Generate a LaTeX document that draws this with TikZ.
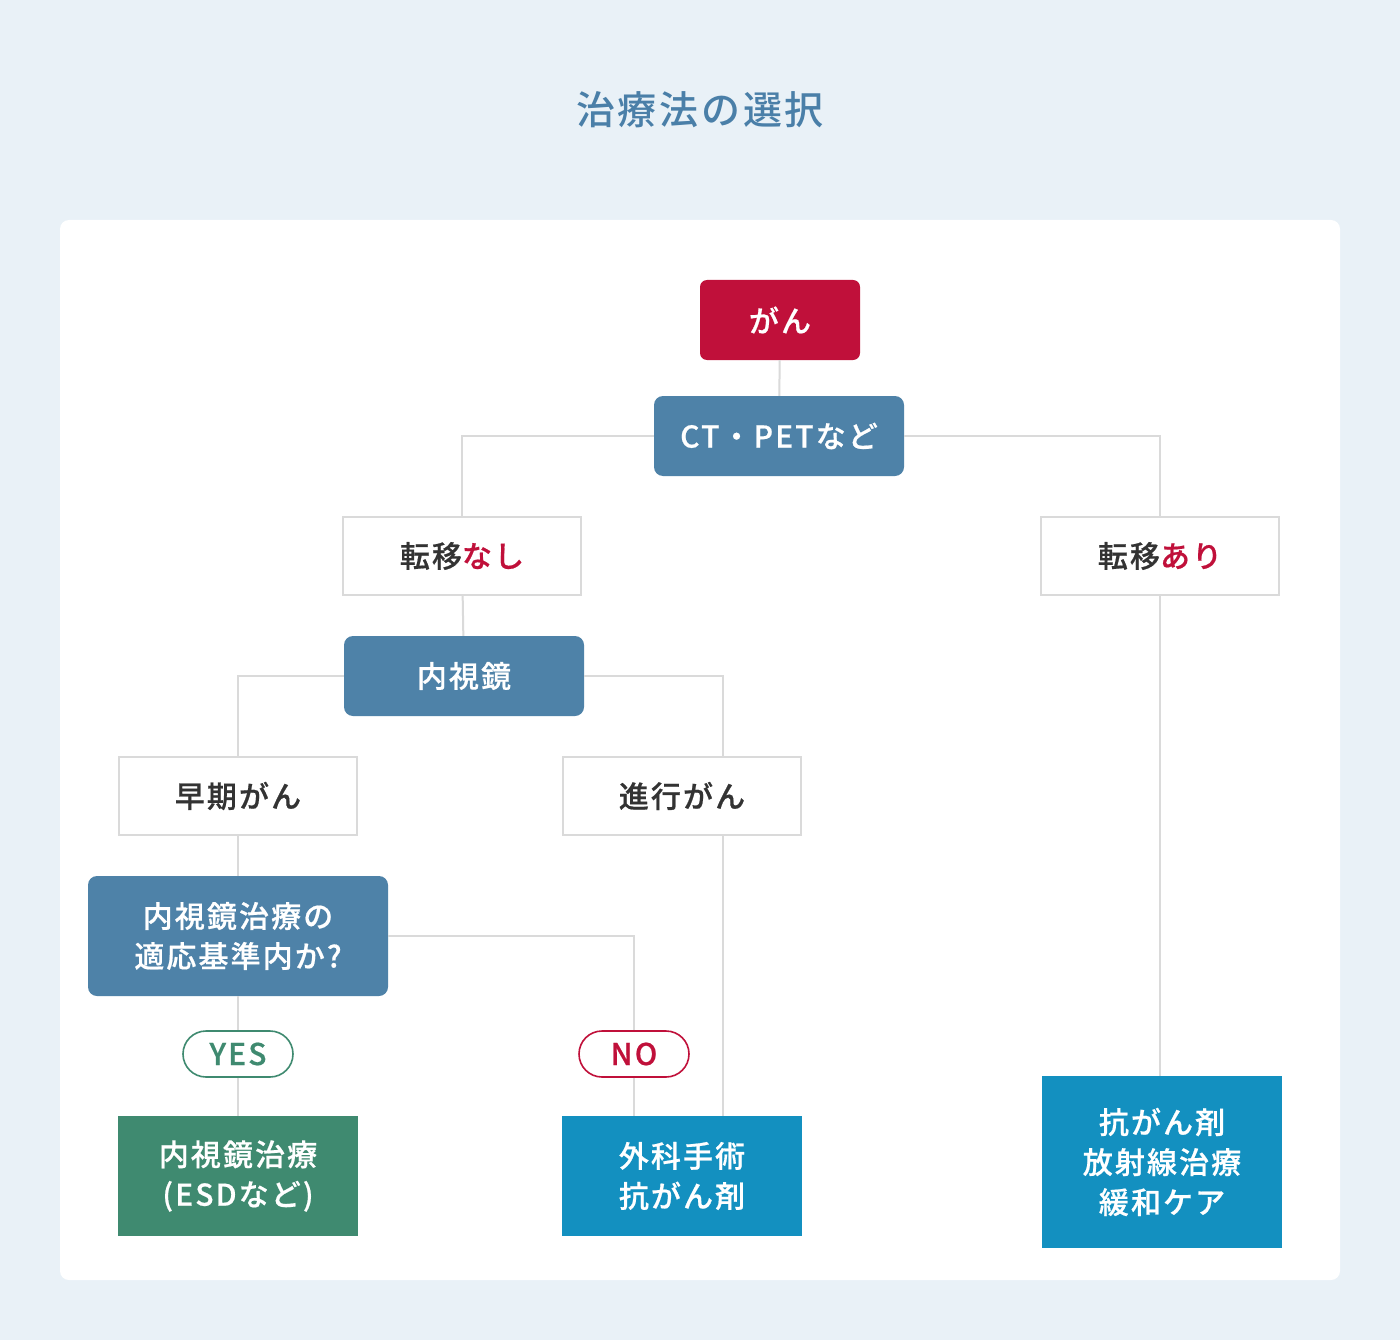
\documentclass[tikz,border=0pt]{standalone}
\usepackage{fontspec}
\setmainfont{Noto Sans CJK JP}[LetterSpace=7, BoldFont={Noto Sans CJK JP Medium}]
\newfontfamily\boxfont{Noto Sans CJK JP Medium}[LetterSpace=7, FakeBold=0.6]
\usepackage{xcolor}
\definecolor{gcbg}{HTML}{E9F1F7}
\definecolor{gctitle}{HTML}{4A7FA8}
\definecolor{gcred}{HTML}{C0103A}
\definecolor{gcblue}{HTML}{4E82A8}
\definecolor{gccyan}{HTML}{1390C0}
\definecolor{gcgreen}{HTML}{3F8A70}
\definecolor{gcline}{HTML}{DADADA}
\definecolor{gcdark}{HTML}{333333}
\usetikzlibrary{positioning}

\begin{document}
\begin{tikzpicture}[x=1pt, y=-1pt,
  flow/.style={rectangle, inner sep=0pt, align=center, text=white,
    font=\boxfont\fontsize{30}{40}\selectfont},
  redbox/.style={flow, fill=gcred, rounded corners=7pt},
  bluebox/.style={flow, fill=gcblue, rounded corners=9pt},
  outbox/.style={flow, fill=white, draw=gcline, line width=2pt, text=gcdark,
    minimum width=238pt, minimum height=78pt},
  endbox/.style={flow, minimum width=240pt},
  pill/.style={flow, fill=white, line width=1.6pt, rounded corners=23pt,
    minimum width=110pt, minimum height=46pt},
  link/.style={draw=gcline, line width=2pt}]
% background and panel
\fill[gcbg] (0,0) rectangle (1400,1340);
\fill[white, rounded corners=9pt] (60,220) rectangle (1340,1280);
\node (title) at (700,110) [text=gctitle, font=\bfseries\fontsize{39}{48}\selectfont] {治療法の選択};
% top of the tree
\node[redbox, minimum width=160pt, minimum height=80pt] (gan) at (780,320) {がん};
\node[bluebox, minimum width=250pt, minimum height=80pt] (ctpet) at (779,436) {CT・PETなど};
\node[outbox] (nashi) at (462,556) {転移\textcolor{gcred}{なし}};
\node[outbox] (ari) at (1160,556) {転移\textcolor{gcred}{あり}};
% no metastasis branch
\node[bluebox, minimum width=240pt, minimum height=80pt] (naishi) at (464,676) {内視鏡};
\node[outbox] (soki) at (238,796) {早期がん};
\node[outbox] (shinko) at (682,796) {進行がん};
\coordinate (shinkoline) at (723,796);
\node[bluebox, minimum width=300pt, minimum height=120pt] (tekio) at (238,936)
  {内視鏡治療の\\適応基準内か?};
\node[pill, draw=gcgreen, text=gcgreen] (yes) at (238,1054) {YES};
\node[pill, draw=gcred, text=gcred] (no) at (634,1054) {NO};
% treatments
\node[endbox, fill=gcgreen, minimum height=120pt] (esd) at (238,1176) {内視鏡治療\\(ESDなど)};
\node[endbox, fill=gccyan, minimum height=120pt] (geka) at (682,1176) {外科手術\\抗がん剤};
\node[endbox, fill=gccyan, minimum height=172pt] (kagaku) at (1162,1162)
  {抗がん剤\\放射線治療\\緩和ケア};
% connectors
\draw[link] (gan) -- (ctpet);
\draw[link] (ctpet.west) -| (nashi.north);
\draw[link] (ctpet.east) -| (ari.north);
\draw[link] (nashi) -- (naishi);
\draw[link] (naishi.west) -| (soki.north);
\draw[link] (naishi.east) -| (shinkoline |- shinko.north);
\draw[link] (soki) -- (tekio);
\draw[link] (tekio) -- (yes);
\draw[link] (yes) -- (esd);
\draw[link] (tekio.east) -| (no.north);
\draw[link] (no.south) -- (no.south |- geka.north);
\draw[link] (shinkoline |- shinko.south) -- (shinkoline |- geka.north);
\draw[link] (ari.south) -- (ari.south |- kagaku.north);
\end{tikzpicture}
\end{document}
